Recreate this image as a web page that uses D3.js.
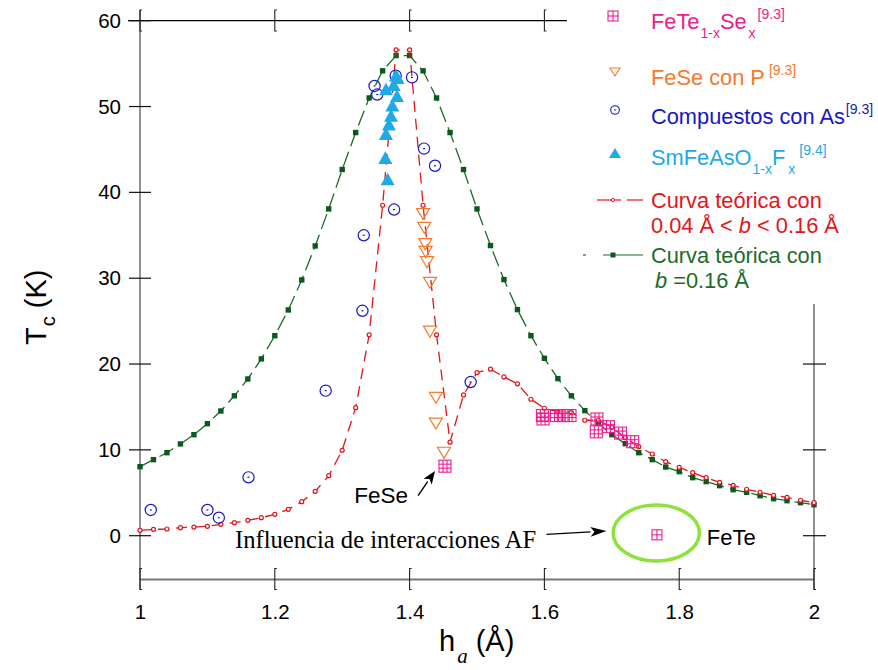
<!DOCTYPE html>
<html><head><meta charset="utf-8">
<script src="https://cdn.jsdelivr.net/npm/d3@7"></script>
<style>body{margin:0;background:#fff} svg{display:block}</style>
</head><body><svg id="c" width="878" height="670" font-family="Liberation Sans, Arial, Helvetica, sans-serif"></svg>
<script>
// ---------- data ----------
const xTicks=[1,1.2,1.4,1.6,1.8,2];
const xTickLabels=["1","1.2","1.4","1.6","1.8","2"];
const yTicks=[0,10,20,30,40,50,60];
const yTickLabels=["0","10","20","30","40","50","60"];
const yRightTicks=[0,10,20];

// FeTe1-xSex
const feTeH=[1.4525,1.597,1.598,1.618,1.628,1.638,1.678,1.677,1.695,1.713,1.731,1.767];
const feTeT=[8.1,14.0,13.6,14.0,14.0,14.0,13.6,12.1,12.7,11.95,10.95,0.1];
// FeSe con P
const feSeH=[1.420,1.4218,1.4233,1.4238,1.4258,1.4303,1.4303,1.439,1.439,1.451];
const feSeT=[37.5,35.9,34.0,33.1,31.9,29.5,23.8,16.1,13.1,9.7];
// Compuestos con As
const asH=[1.016,1.100,1.117,1.161,1.2755,1.330,1.332,1.348,1.352,1.377,1.3793,1.4036,1.4214,1.4377,1.4906];
const asT=[3.0,3.0,2.1,6.8,16.9,26.2,35.0,52.4,51.4,38.0,53.6,53.4,45.1,43.1,17.9];
// SmFeAsO1-xFx
const smH=[1.3798,1.3820,1.3764,1.365,1.3813,1.3744,1.3724,1.3694,1.365,1.364,1.3675];
const smT=[53.6,53.3,52.5,52.0,51.2,50.1,48.9,47.9,46.8,44.0,41.5];
// Curva teórica 0.04 < b < 0.16
const redH=[1.00,1.02,1.04,1.06,1.08,1.10,1.12,1.14,1.16,1.18,1.20,1.22,1.24,1.26,1.28,1.30,1.32,1.34,1.36,1.38,1.40,1.42,1.44,1.46,1.48,1.50,1.52,1.54,1.56,1.58,1.60,1.62,1.64,1.66,1.68,1.70,1.72,1.74,1.76,1.78,1.80,1.82,1.84,1.86,1.88,1.90,1.92,1.94,1.96,1.98,2.00];
const redT=[0.63,0.74,0.78,0.93,1.01,1.09,1.33,1.52,1.79,2.1,2.49,3.07,3.96,5.17,6.99,9.95,14.92,23.4,38.5,56.6,56.6,38.5,23.4,10.9,16.4,19.0,19.4,18.5,17.7,15.9,14.85,14.45,14.35,13.45,13.45,12.63,11.42,10.37,9.52,8.62,7.97,7.34,6.76,6.22,5.87,5.41,5.06,4.7,4.47,4.13,3.85];
// Curva teórica b = 0.16
const greenH=[1.00,1.02,1.04,1.06,1.08,1.10,1.12,1.14,1.16,1.18,1.20,1.22,1.24,1.26,1.28,1.30,1.32,1.34,1.36,1.38,1.40,1.42,1.44,1.46,1.48,1.50,1.52,1.54,1.56,1.58,1.60,1.62,1.64,1.66,1.68,1.70,1.72,1.74,1.76,1.78,1.80,1.82,1.84,1.86,1.88,1.90,1.92,1.94,1.96,1.98,2.00];
const greenT=[8.04,8.86,9.67,10.69,11.77,13.05,14.53,16.3,18.26,20.6,23.3,26.3,29.8,33.76,38.07,42.66,46.97,51.0,54.16,55.94,55.94,54.16,51.0,46.97,42.66,38.07,33.8,29.84,26.34,23.3,20.67,18.3,16.3,14.57,13.1,11.77,10.72,9.67,8.86,8.0,7.46,6.76,6.3,5.83,5.36,5.06,4.66,4.31,4.08,3.85,3.61];

// ---------- colours ----------
const C={pink:"#EC1C8C",orange:"#F47A2C",blue:"#1616C8",cyan:"#1DAAE6",red:"#E3141B",green:"#1D6B2A",gsq:"#0B5A1C",ell:"#8EE23C"};
const SERIF="Liberation Serif, Times New Roman, serif";

const svg=d3.select("#c");
const x=d3.scaleLinear().domain([1,2]).range([140,814]);
const y=d3.scaleLinear().domain([0,60]).range([535.7,20.7]);
const yBottom=y(-5.1);

// ---------- frame ----------
const g=svg.append("g");
g.append("line").attr("x1",128).attr("x2",567).attr("y1",y(60)).attr("y2",y(60)).attr("stroke","#000").attr("stroke-width",1.3);
g.append("line").attr("x1",x(1)).attr("x2",x(1)).attr("y1",10).attr("y2",yBottom+10).attr("stroke","#777").attr("stroke-width",1.6);
g.append("line").attr("x1",x(1)).attr("x2",x(2)).attr("y1",yBottom).attr("y2",yBottom).attr("stroke","#777").attr("stroke-width",1.8);
g.append("line").attr("x1",x(2)).attr("x2",x(2)).attr("y1",304).attr("y2",yBottom+10).attr("stroke","#777").attr("stroke-width",1.6);

function bracket(sel,xv,y1,y2){
  sel.append("path").attr("d",`M${xv+2},${y1}H${xv}V${y2}H${xv+2}`).attr("fill","none").attr("stroke","#222").attr("stroke-width",1.1);
}
xTicks.forEach(t=>{ if(x(t)<570) bracket(g,x(t),10,31); bracket(g,x(t),yBottom-11,yBottom+10); });
yTicks.forEach(t=>{ g.append("line").attr("x1",x(1)-11).attr("x2",x(1)+11).attr("y1",y(t)).attr("y2",y(t)).attr("stroke","#111").attr("stroke-width",1.2); });
yRightTicks.forEach(t=>{ g.append("line").attr("x1",x(2)-11).attr("x2",x(2)+12).attr("y1",y(t)).attr("y2",y(t)).attr("stroke","#111").attr("stroke-width",1.2); });

// tick labels via d3 axes
const ax=svg.append("g").attr("transform",`translate(0,${yBottom})`)
  .call(d3.axisBottom(x).tickValues(xTicks).tickFormat((d,i)=>xTickLabels[i]).tickSize(0).tickPadding(25));
const ay=svg.append("g").attr("transform",`translate(${x(1)},0)`)
  .call(d3.axisLeft(y).tickValues(yTicks).tickFormat((d,i)=>yTickLabels[i]).tickSize(0).tickPadding(19));
[ax,ay].forEach(a=>{a.select(".domain").remove();a.attr("font-family",null).attr("font-size",null);a.selectAll("text").style("font-size","20.5px").attr("fill","#000");});

// axis titles
const xt=svg.append("text").attr("x",439).attr("y",651).style("font-size","29px").attr("fill","#000");
xt.append("tspan").text("h");
xt.append("tspan").attr("dy",12).style("font-family",SERIF).style("font-style","italic").style("font-size","21px").attr("dx",2).text("a");
xt.append("tspan").attr("dy",-12).attr("dx",8).text("(Å)");

const yt=svg.append("text").attr("transform","translate(46,345) rotate(-90)").style("font-size","29px").attr("fill","#000");
yt.append("tspan").text("T");
yt.append("tspan").attr("dy",9).style("font-size","20px").attr("dx",1).text("c");
yt.append("tspan").attr("dy",-9).attr("dx",8).text("(K)");

// ---------- curves ----------
const line=d3.line().x(d=>x(d[0])).y(d=>y(d[1]));
const greenData=greenH.map((h,i)=>[h,greenT[i]]);
const redData=redH.map((h,i)=>[h,redT[i]]);

svg.append("path").datum(greenData).attr("d",line).attr("fill","none").attr("stroke",C.green).attr("stroke-width",1.3).attr("stroke-dasharray","16,6");
svg.append("g").selectAll("rect").data(greenData).join("rect").attr("x",d=>x(d[0])-2.7).attr("y",d=>y(d[1])-2.7).attr("width",5.4).attr("height",5.4).attr("fill",C.gsq);

svg.append("path").datum(redData).attr("d",line).attr("fill","none").attr("stroke",C.red).attr("stroke-width",1.3).attr("stroke-dasharray","11,7");
svg.append("g").selectAll("circle").data(redData).join("circle").attr("cx",d=>x(d[0])).attr("cy",d=>y(d[1])).attr("r",2).attr("fill","#fff").attr("stroke",C.red).attr("stroke-width",1.2);

// ---------- markers ----------
function gridSquare(sel,cx,cy,s,n,col){
  const gg=sel.append("g").attr("stroke",col).attr("stroke-width",1.1).attr("fill","none");
  gg.append("rect").attr("x",cx-s/2).attr("y",cy-s/2).attr("width",s).attr("height",s);
  for(let k=1;k<n;k++){
    const o=-s/2+s*k/n;
    gg.append("line").attr("x1",cx+o).attr("x2",cx+o).attr("y1",cy-s/2).attr("y2",cy+s/2);
    gg.append("line").attr("y1",cy+o).attr("y2",cy+o).attr("x1",cx-s/2).attr("x2",cx+s/2);
  }
}
function triDown(sel,cx,cy,s,col){
  sel.append("path").attr("d",`M${cx-s/2},${cy-s*0.4}L${cx+s/2},${cy-s*0.4}L${cx},${cy+s*0.45}Z`).attr("fill","none").attr("stroke",col).attr("stroke-width",1.2);
}
function triUp(sel,cx,cy,s,col){
  sel.append("path").attr("d",`M${cx-s/2},${cy+s*0.42}L${cx+s/2},${cy+s*0.42}L${cx},${cy-s*0.48}Z`).attr("fill",col);
}
function dotCircle(sel,cx,cy,r,col){
  sel.append("circle").attr("cx",cx).attr("cy",cy).attr("r",r).attr("fill","none").attr("stroke",col).attr("stroke-width",1.2);
  sel.append("rect").attr("x",cx-1).attr("y",cy-0.6).attr("width",2).attr("height",1.2).attr("fill",col);
}
const mk=svg.append("g");
asH.forEach((h,i)=>dotCircle(mk,x(h),y(asT[i]),5.6,C.blue));
feSeH.forEach((h,i)=>triDown(mk,x(h),y(feSeT[i]),13,C.orange));
smH.forEach((h,i)=>triUp(mk,x(h),y(smT[i]),14,C.cyan));
feTeH.forEach((h,i)=>gridSquare(mk,x(h),y(feTeT[i]),i===feTeH.length-1?10:12,i===feTeH.length-1?2:3,C.pink));

// ---------- annotations ----------
function arrow(sel,x1,y1,x2,y2,hl,hw){
  const a=Math.atan2(y2-y1,x2-x1);
  const bx=x2-hl*Math.cos(a), by=y2-hl*Math.sin(a);
  sel.append("line").attr("x1",x1).attr("y1",y1).attr("x2",bx).attr("y2",by).attr("stroke","#000").attr("stroke-width",1.4);
  const px=-Math.sin(a)*hw, py=Math.cos(a)*hw;
  const ix=x2-hl*0.75*Math.cos(a), iy=y2-hl*0.75*Math.sin(a);
  sel.append("path").attr("d",`M${x2},${y2}L${bx+px},${by+py}L${ix},${iy}L${bx-px},${by-py}Z`).attr("fill","#000");
}
const an=svg.append("g");
an.append("text").attr("x",x(1.318)).attr("y",y(3.81)).style("font-size","22.5px").attr("fill","#000").text("FeSe");
arrow(an,x(1.4125),y(4.66),x(1.4377),y(7.54),13,5);
an.append("text").attr("x",x(1.141)).attr("y",y(-1.45)).style("font-size","24.6px").style("font-family",SERIF).attr("fill","#000").text("Influencia de interacciones AF");
arrow(an,x(1.603),y(0.16),x(1.692),y(0.55),16,5);
an.append("ellipse").attr("cx",x(1.766)).attr("cy",y(0.31)).attr("rx",x(1.766)-x(1.702)).attr("ry",y(0)-y(3.26)).attr("fill","none").attr("stroke",C.ell).attr("stroke-width",3.5);
an.append("text").attr("x",x(1.841)).attr("y",y(-1.08)).style("font-size","22px").attr("fill","#000").text("FeTe");

// ---------- legend ----------
const L=svg.append("g");
const tx=651, fs=21.8, sfs=14;
function row(yb,col,parts){
  const t=L.append("text").attr("x",tx).attr("y",yb).style("font-size",fs+"px").attr("fill",col);
  let cur=0;
  parts.forEach(p=>{
    const s=t.append("tspan").text(p.t);
    const target=p.sub?9:(p.sup?-10:0);
    if(target!==cur) s.attr("dy",target-cur);
    cur=target;
    if(p.sub||p.sup) s.style("font-size",sfs+"px");
    if(p.dx) s.attr("dx",p.dx);
    if(p.it) s.style("font-style","italic");
  });
  return t;
}
const lg=L.append("g");
lg.append("rect").attr("x",608).attr("y",11).attr("width",10).attr("height",10).attr("fill","none").attr("stroke",C.pink).attr("stroke-width",1.1);
lg.append("line").attr("x1",613).attr("x2",613).attr("y1",11).attr("y2",21).attr("stroke",C.pink).attr("stroke-width",1.1);
lg.append("line").attr("x1",608).attr("x2",618).attr("y1",16).attr("y2",16).attr("stroke",C.pink).attr("stroke-width",1.1);
lg.append("path").attr("d","M610,68L620,68L615,76Z").attr("fill","none").attr("stroke",C.orange).attr("stroke-width",1.1);
lg.append("circle").attr("cx",615).attr("cy",110).attr("r",4.3).attr("fill","none").attr("stroke",C.blue).attr("stroke-width",1.1);
lg.append("rect").attr("x",614).attr("y",109.5).attr("width",2).attr("height",1).attr("fill",C.blue);
lg.append("path").attr("d","M609,158L621,158L615,148Z").attr("fill",C.cyan);
lg.append("line").attr("x1",597).attr("x2",621).attr("y1",200).attr("y2",200).attr("stroke",C.red).attr("stroke-width",1.2);
lg.append("line").attr("x1",627).attr("x2",643).attr("y1",200).attr("y2",200).attr("stroke",C.red).attr("stroke-width",1.2);
lg.append("circle").attr("cx",613).attr("cy",200).attr("r",1.6).attr("fill","#fff").attr("stroke",C.red).attr("stroke-width",1);
lg.append("line").attr("x1",583).attr("x2",586).attr("y1",255).attr("y2",255).attr("stroke",C.green).attr("stroke-width",1.2);
lg.append("line").attr("x1",603).attr("x2",643).attr("y1",255).attr("y2",255).attr("stroke",C.green).attr("stroke-width",1.2);
lg.append("rect").attr("x",610.5).attr("y",252.5).attr("width",5).attr("height",5).attr("fill",C.gsq);

row(29,C.pink,[{t:"FeTe"},{t:"1-x",sub:1,dx:1},{t:"Se"},{t:"x",sub:1,dx:2},{t:"[9.3]",sup:1,dx:2}]);
row(85,C.orange,[{t:"FeSe con P"},{t:"[9.3]",sup:1,dx:4}]);
row(124,C.blue,[{t:"Compuestos con As"},{t:"[9.3]",sup:1,dx:1}]);
row(165,C.cyan,[{t:"SmFeAsO"},{t:"1-x",sub:1,dx:1},{t:"F"},{t:"x",sub:1,dx:3},{t:"[9.4]",sup:1,dx:4}]);
row(208,C.red,[{t:"Curva teórica con"}]);
row(233,C.red,[{t:"0.04 Å < "},{t:"b",it:1},{t:" < 0.16 Å"}]);
row(263,C.green,[{t:"Curva teórica con"}]);
row(288,C.green,[{t:" b",it:1,dx:4},{t:" =0.16 Å"}]);
</script>
</body></html>
